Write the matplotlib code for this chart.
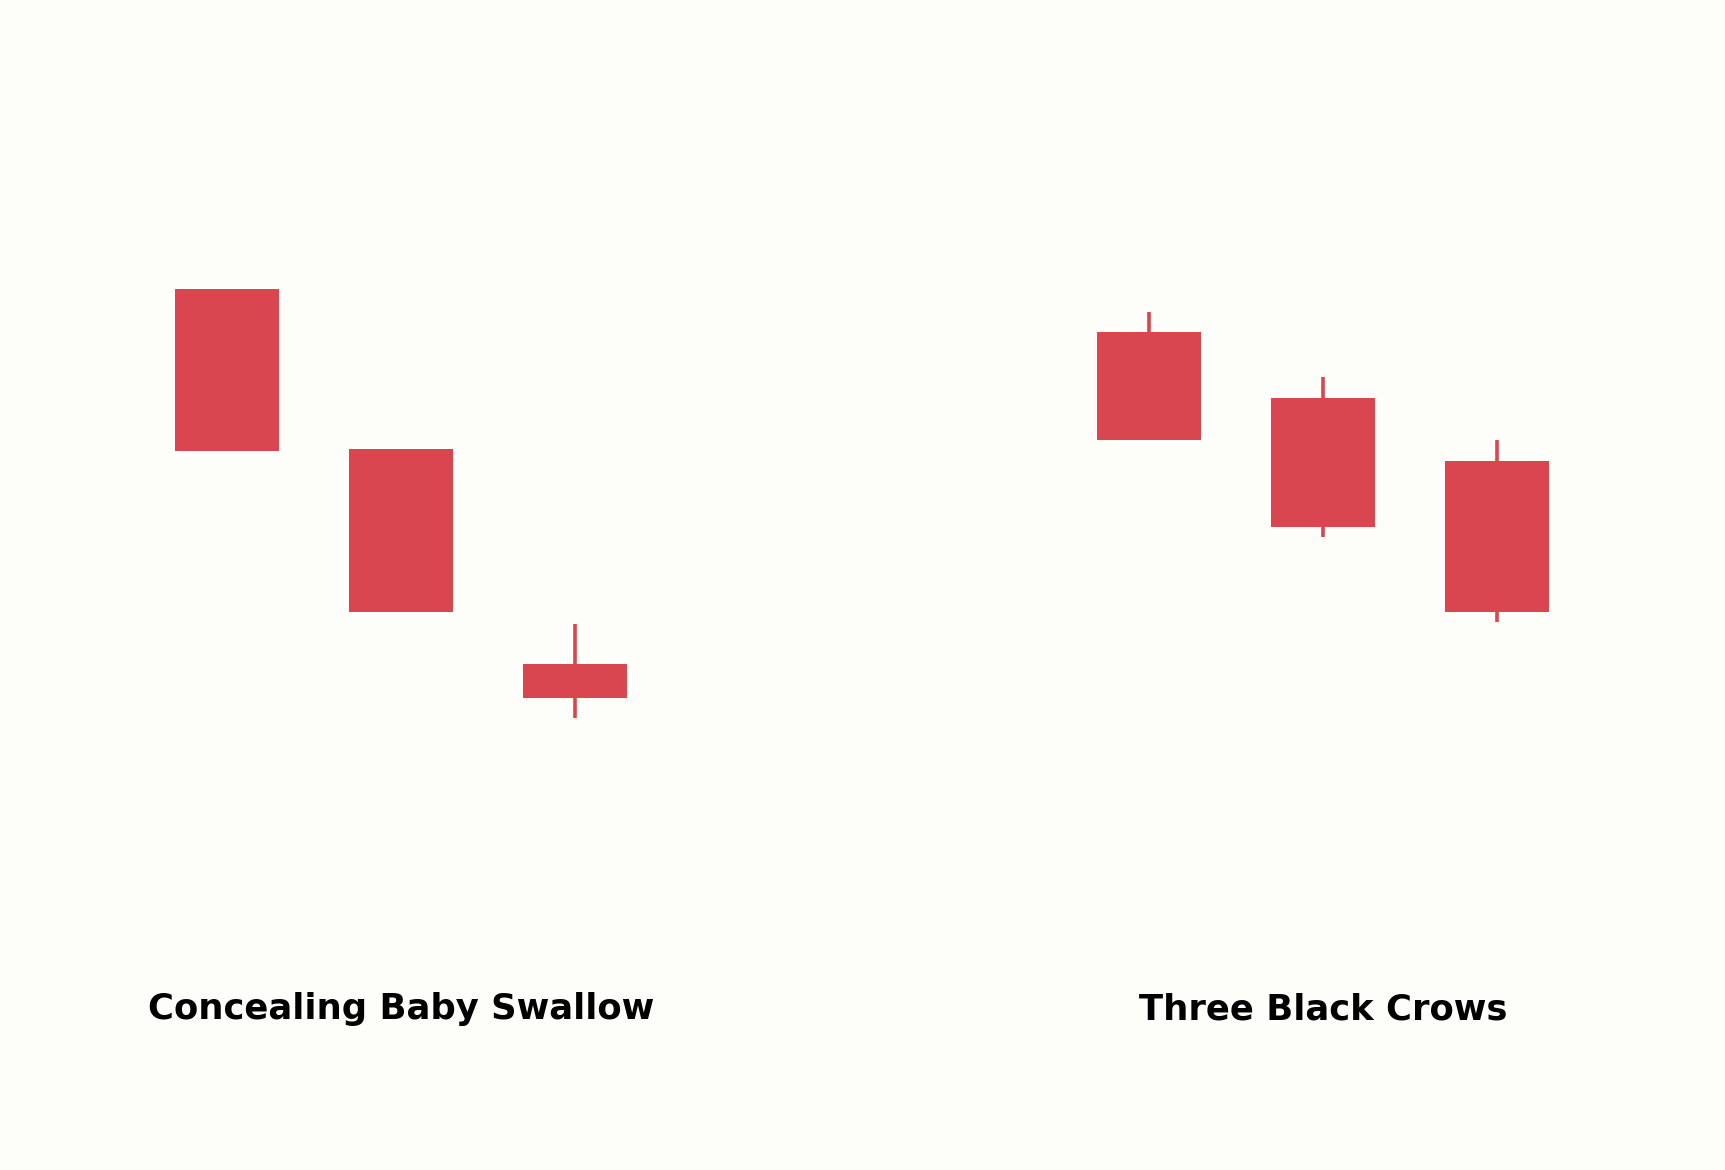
import matplotlib
matplotlib.use("Agg")
import matplotlib.pyplot as plt

# Pattern 1: Concealing Baby Swallow
p1_name = "Concealing Baby Swallow"
p1_open = [100.0, 90.1, 76.8]
p1_close = [90.0, 80.0, 74.7]
p1_high = [100.0, 90.1, 79.3]
p1_low = [90.0, 80.0, 73.5]

# Pattern 2: Three Black Crows
p2_name = "Three Black Crows"
p2_open = [97.35, 93.3, 89.4]
p2_close = [90.7, 85.3, 80.0]
p2_high = [98.6, 94.6, 90.7]
p2_low = [90.7, 84.7, 79.4]

BG = "#FDFDF9"
RED = "#D94650"

fig = plt.figure(figsize=(17.25, 11.7), dpi=100, facecolor=BG)

def draw(ax, name, o, c, h, l):
    xs = list(range(len(o)))
    ax.vlines(xs, l, h, color=RED, linewidth=2.6, zorder=1, capstyle="butt")
    heights = [oo - cc for oo, cc in zip(o, c)]
    ax.bar(xs, heights, bottom=c, width=0.6, color=RED, zorder=2, linewidth=0)
    ax.set_xlim(-1, 3)
    ax.set_ylim(45.5, 117.9)
    ax.set_facecolor(BG)
    ax.axis("off")

ax1 = fig.add_axes([0.0309, 0.0, 0.4031, 1.0])
draw(ax1, p1_name, p1_open, p1_close, p1_high, p1_low)
ax2 = fig.add_axes([0.5654, 0.0, 0.4031, 1.0])
draw(ax2, p2_name, p2_open, p2_close, p2_high, p2_low)

fig.text(0.0309 + 0.4031 / 2, 0.129, p1_name, ha="center", va="baseline",
         fontsize=25.5, fontweight="bold", color="black", family="DejaVu Sans")
fig.text(0.5654 + 0.4031 / 2, 0.129, p2_name, ha="center", va="baseline",
         fontsize=25.5, fontweight="bold", color="black", family="DejaVu Sans")

fig.savefig("out.png", dpi=100, facecolor=BG)
